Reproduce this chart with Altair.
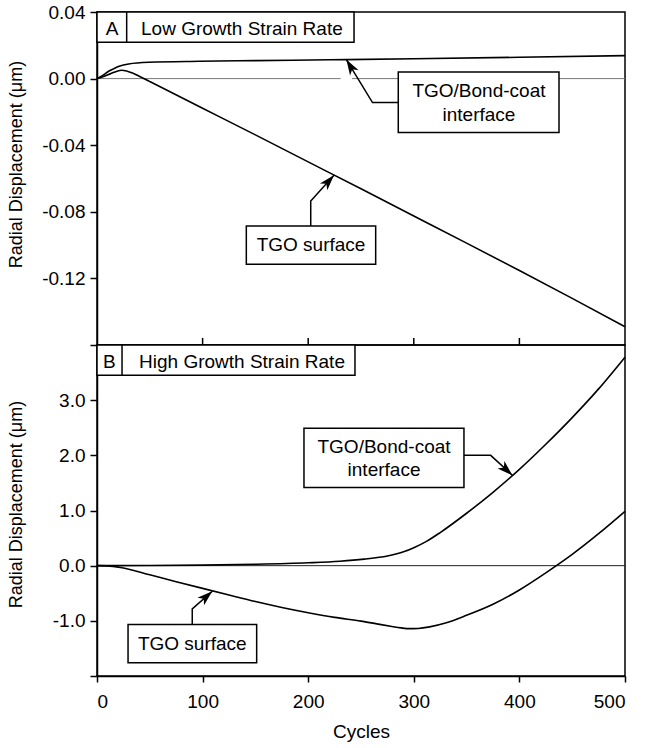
import math
import altair as alt
import pandas as pd

# ---------------- data ----------------
x_ticks = [0, 100, 200, 300, 400, 500]

# Panel A : Low growth strain rate
a_interface_cycles = [0, 5, 11, 16, 21, 30, 49, 97, 150, 220, 300, 400, 500]
a_interface_disp = [0.0, 0.0018, 0.0044, 0.0060, 0.0074, 0.0088, 0.0098, 0.0104,
                    0.0108, 0.0113, 0.0119, 0.0128, 0.0138]
a_surface_cycles = [0, 5, 11, 16, 23, 28, 33, 40, 50, 100, 150, 200, 250, 300, 350, 400, 450, 500]
a_surface_disp = [0.0, 0.0010, 0.0024, 0.0038, 0.0050, 0.0046, 0.0035, 0.0014, -0.0018,
                  -0.0178, -0.0338, -0.0500, -0.0662, -0.0825, -0.0988, -0.1153, -0.1320, -0.1490]
a_y_ticks = [0.04, 0.0, -0.04, -0.08, -0.12, -0.16]

# Panel B : High growth strain rate
b_interface_cycles = [0, 50, 100, 150, 200, 230, 253, 275, 283, 291, 300, 312, 325, 350,
                      375, 400, 425, 450, 475, 500]
b_interface_disp = [0.0, 0.003, 0.010, 0.025, 0.052, 0.080, 0.118, 0.175, 0.210, 0.255,
                    0.325, 0.440, 0.600, 0.950, 1.330, 1.745, 2.200, 2.684, 3.205, 3.780]
b_surface_cycles = [0, 15, 25, 50, 75, 100, 125, 150, 175, 200, 225, 250, 265, 278, 288,
                    296, 304, 315, 330, 350, 375, 400, 425, 450, 475, 500]
b_surface_disp = [0.0, -0.012, -0.042, -0.165, -0.290, -0.412, -0.532, -0.650, -0.757,
                  -0.852, -0.937, -1.005, -1.055, -1.098, -1.128, -1.142, -1.138, -1.110,
                  -1.040, -0.900, -0.700, -0.440, -0.130, 0.205, 0.580, 0.985]
b_y_ticks = [3, 2, 1, 0, -1, -2]

# ---------------- layout / style ----------------
FONT = "Liberation Sans"
W = 528
HA = 333
HB = 331
XDOM = [0, 500]
ADOM = [-0.16, 0.04]
BDOM = [-2.0, 4.0]
ARROW = "M0,0 L0.55,1.7 L0,1.25 L-0.55,1.7 Z"
YTITLE = "Radial Displacement (μm)"


def curves_df(c1, v1, c2, v2):
    rows = [{"cycle": c, "disp": v, "series": "interface"} for c, v in zip(c1, v1)]
    rows += [{"cycle": c, "disp": v, "series": "surface"} for c, v in zip(c2, v2)]
    return pd.DataFrame(rows)


def panel(curves, ydom, height, yvals, fmt, title_y, header, boxes, arrows,
          zero_segments, zero_color, show_x):
    xs = alt.Scale(domain=XDOM, nice=False, zero=False)
    ys = alt.Scale(domain=ydom, nice=False, zero=False)
    low = ydom[0] + (ydom[1] - ydom[0]) * 0.05
    label_expr = (f"datum.value < {low} ? '' : (datum.value < 0 ? '-' + format(-datum.value, '{fmt}')"
                  f" : format(datum.value, '{fmt}'))")
    yaxis = alt.Axis(values=yvals, labelExpr=label_expr, title=YTITLE,
                     titleX=-81, titleY=title_y, titleBaseline="middle")
    if show_x:
        xaxis = alt.Axis(values=x_ticks, title="Cycles", format="d")
    else:
        xaxis = None

    def X(f="cycle"):
        return alt.X(f"{f}:Q", scale=xs, axis=xaxis)

    def Y(f="disp"):
        return alt.Y(f"{f}:Q", scale=ys, axis=yaxis)

    layers = []

    # zero line
    zdf = pd.DataFrame([{"x0": a, "x1": b, "y": 0.0} for a, b in zero_segments])
    layers.append(alt.Chart(zdf).mark_rule(color=zero_color, strokeWidth=1).encode(
        x=X("x0"), x2="x1:Q", y=Y("y")))

    # curves
    layers.append(alt.Chart(curves).mark_line(color="black", strokeWidth=1.6,
                                               interpolate="monotone").encode(
        x=X(), y=Y(), detail="series:N"))

    # inward ticks at bottom (top panel only)
    if not show_x:
        tdf = pd.DataFrame({"t": x_ticks[1:-1]})
        layers.append(alt.Chart(tdf).mark_rule(color="black", strokeWidth=1.5).encode(
            x=X("t"), y=alt.value(height), y2=alt.value(height - 7)))

    # header box
    hdf = pd.DataFrame([header])
    layers.append(alt.Chart(hdf).mark_rect(fill="white", stroke="black", strokeWidth=1.5).encode(
        x=X("x0"), x2="x1:Q", y=Y("y0"), y2="y1:Q"))
    layers.append(alt.Chart(hdf).mark_rule(color="black", strokeWidth=1.5).encode(
        x=X("div"), y=Y("y0"), y2="y1:Q"))
    layers.append(alt.Chart(hdf).mark_text(font=FONT, fontSize=19, color="black",
                                           align="center", baseline="middle").encode(
        x=X("letter_x"), y=Y("text_y"), text="letter:N"))
    layers.append(alt.Chart(hdf).mark_text(font=FONT, fontSize=19, color="black",
                                           align="left", baseline="middle").encode(
        x=X("text_x"), y=Y("text_y"), text="text:N"))

    # annotation boxes
    bdf = pd.DataFrame([{k: b[k] for k in ("x0", "x1", "y0", "y1")} for b in boxes])
    layers.append(alt.Chart(bdf).mark_rect(fill="white", stroke="black", strokeWidth=1.5).encode(
        x=X("x0"), x2="x1:Q", y=Y("y0"), y2="y1:Q"))
    trows = []
    for b in boxes:
        for line, ty in zip(b["lines"], b["ty"]):
            trows.append({"tx": b["tx"], "ty": ty, "label": line})
    layers.append(alt.Chart(pd.DataFrame(trows)).mark_text(
        font=FONT, fontSize=19, color="black", align="center", baseline="middle").encode(
        x=X("tx"), y=Y("ty"), text="label:N"))

    # arrows
    arows, heads = [], []
    for i, pts in enumerate(arrows):
        for j, (c, v) in enumerate(pts):
            arows.append({"id": i, "ord": j, "cycle": c, "disp": v})
        (c0, v0), (c1, v1) = pts[-2], pts[-1]
        dx = (c1 - c0) * W / (XDOM[1] - XDOM[0])
        dy = (v1 - v0) * height / (ydom[1] - ydom[0])
        ang = math.degrees(math.atan2(dx, dy)) % 360
        heads.append({"cycle": c1, "disp": v1, "ang": ang})
    layers.append(alt.Chart(pd.DataFrame(arows)).mark_line(color="black", strokeWidth=1.5).encode(
        x=X(), y=Y(), detail="id:N", order="ord:Q"))
    layers.append(alt.Chart(pd.DataFrame(heads)).mark_point(
        shape=ARROW, size=330, filled=True, color="black", opacity=1, strokeWidth=0).encode(
        x=X(), y=Y(), angle=alt.Angle("ang:Q", scale=None)))

    return alt.layer(*layers).properties(width=W, height=height)


header_a = {"x0": 0, "x1": 243.4, "y0": 0.0218, "y1": 0.04, "div": 28.1,
            "letter": "A", "letter_x": 14.2, "text": "Low Growth Strain Rate",
            "text_x": 41.7, "text_y": 0.0300}
boxes_a = [
    {"x0": 285.3, "x1": 437.5, "y0": -0.0324, "y1": 0.0040,
     "lines": ["TGO/Bond-coat", "interface"], "tx": 361.7, "ty": [-0.0076, -0.0216]},
    {"x0": 141.4, "x1": 263.9, "y0": -0.1115, "y1": -0.0885,
     "lines": ["TGO surface"], "tx": 202.7, "ty": [-0.0998]},
]
arrows_a = [
    [(285.3, -0.0144), (260.9, -0.0144), (236.1, 0.0114)],
    [(202.4, -0.0885), (202.4, -0.0735), (224.4, -0.0581)],
]

header_b = {"x0": 0, "x1": 244.3, "y0": 3.453, "y1": 4.0, "div": 23.7,
            "letter": "B", "letter_x": 11.8, "text": "High Growth Strain Rate",
            "text_x": 39.8, "text_y": 3.70}
boxes_b = [
    {"x0": 196.0, "x1": 347.5, "y0": 1.418, "y1": 2.49,
     "lines": ["TGO/Bond-coat", "interface"], "tx": 271.8, "ty": [2.16, 1.736]},
    {"x0": 29.4, "x1": 151.2, "y0": -1.76, "y1": -1.067,
     "lines": ["TGO surface"], "tx": 90.2, "ty": [-1.416]},
]
arrows_b = [
    [(347.5, 2.0), (372.8, 2.0), (393.3, 1.64)],
    [(90.2, -1.067), (90.2, -0.783), (109.2, -0.463)],
]

top = panel(curves_df(a_interface_cycles, a_interface_disp, a_surface_cycles, a_surface_disp),
            ADOM, HA, a_y_ticks, ".2f", 152, header_a, boxes_a, arrows_a,
            [(0, 230.7), (241.5, 500)], "#777777", False)
bottom = panel(curves_df(b_interface_cycles, b_interface_disp, b_surface_cycles, b_surface_disp),
               BDOM, HB, b_y_ticks, ".1f", 159, header_b, boxes_b, arrows_b,
               [(0, 500)], "#222222", True)

chart = alt.vconcat(top, bottom, spacing=0, bounds="flush").properties(
    padding={"left": 6, "top": 2, "right": 5, "bottom": 5}
).configure(font=FONT, background="white").configure_view(
    stroke="black", strokeWidth=1.5
).configure_axis(
    domainColor="black", domainWidth=1.5, tickColor="black", tickWidth=1.5,
    tickSize=7, labelFont=FONT, labelFontSize=19, labelColor="black",
    titleFont=FONT, titleFontSize=18, titleFontWeight="normal", titleColor="black",
    grid=False, labelPadding=5
).configure_axisX(
    tickSize=6, labelPadding=10, titlePadding=11, titleFontSize=19
)

chart.save("out.html", embed_options={"renderer": "svg", "actions": False})
